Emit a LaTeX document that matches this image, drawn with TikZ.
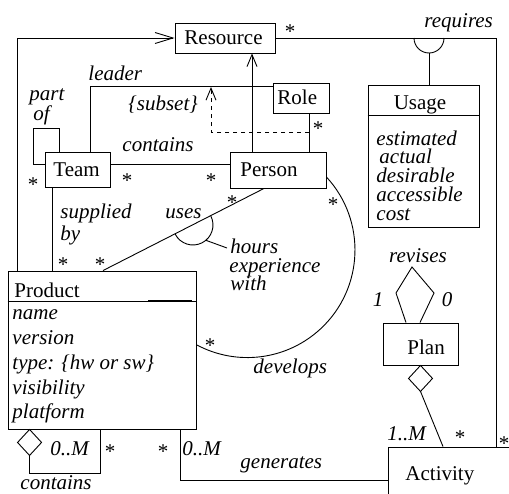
\documentclass[tikz,border=0pt]{standalone}
\usepackage{fontspec}
\setmainfont{Liberation Serif}
\usetikzlibrary{arrows.meta}
\newcommand\fs{\fontsize{21}{24}\selectfont}
\tikzset{
  box/.style={draw, rectangle, inner sep=0pt},
  txt/.style={font=\fs, inner sep=0pt, anchor=base west},
  lbl/.style={font=\fs\itshape, inner sep=0pt, anchor=base west},
  mult/.style={font=\fs, inner sep=0pt, anchor=base, yshift=-10pt},
  bigbarb/.style={-{Straight Barb[length=18pt,width=11pt]}},
  barb/.style={-{Straight Barb[length=12pt,width=10pt]}},
  dsh/.style={dash pattern=on 4pt off 4pt}
}
\begin{document}
\begin{tikzpicture}[x=1pt,y=-1pt,line width=0.9pt]
\useasboundingbox (0,0) rectangle (509,493);
% boxes
\node[box, minimum width=100pt, minimum height=30pt] (res) at (225,38) {};
\node[box, minimum width=56pt, minimum height=30pt] (role) at (301,98) {};
\node[box, minimum width=65pt, minimum height=35pt] (team) at (77.5,169.5) {};
\node[box, minimum width=96pt, minimum height=36pt] (person) at (278,170) {};
\node[box, minimum width=111pt, minimum height=142pt] (usage) at (423.5,156) {};
\node[box, minimum width=188pt, minimum height=158pt] (product) at (102,350) {};
\node[box, minimum width=75pt, minimum height=42pt] (plan) at (420.5,344) {};
\node[box, minimum width=132pt, minimum height=63pt] (activity) at (454,478.5) {};
% dividers
\coordinate (pdv) at (0,301);
\coordinate (udv) at (0,115);
\draw (pdv -| product.west) -- (pdv -| product.east);
\draw[line width=2pt] (148,301) -- (192,301);
\draw (udv -| usage.west) -- (udv -| usage.east);
% box texts
\node[txt] (tres) at (184,44) {Resource};
\node[txt] (trole) at (277,104) {Role};
\node[txt] (tteam) at (53,176) {Team};
\node[txt] (tperson) at (240,176) {Person};
\node[txt, anchor=base] (tusage) at (420,109) {Usage};
\node[txt] (tproduct) at (14,297) {Product};
\node[txt] (tplan) at (407,354) {Plan};
\node[txt] (tact) at (405,480) {Activity};
% attributes
\node[lbl] (a1) at (12,319) {name};
\node[lbl] (a2) at (12,344) {version};
\node[lbl] (a3) at (12,369) {type: \{hw or sw\}};
\node[lbl] (a4) at (12,394) {visibility};
\node[lbl] (a5) at (12,418) {platform};
\node[lbl] (u1) at (376,145) {estimated};
\node[lbl] (u2) at (379,163) {actual};
\node[lbl] (u3) at (376,182) {desirable};
\node[lbl] (u4) at (376,201) {accessible};
\node[lbl] (u5) at (376,220) {cost};
% connectors
\draw[bigbarb] ([xshift=10pt]product.north west) |- (res.west);
\coordinate (rq) at (496,0);
\draw (res.east) -| (activity.north -| rq);
\draw (414,38) arc[start angle=180, end angle=0, radius=15];
\coordinate (rqc) at (429,53);
\draw (rqc) -- (rqc |- usage.north);
\coordinate (pr) at (252,0);
\draw[barb] (pr |- person.north) -- (pr |- res.south);
\draw ([xshift=12.5pt]team.north) |- ([yshift=12pt]role.west);
\coordinate (rp) at (309,0);
\draw (rp |- role.south) -- (rp |- person.north);
\coordinate (dsA) at (309,132);
\coordinate (dsB) at (211,87);
\draw[dsh, barb] (dsA) -| (dsB);
\coordinate (loopc) at (33,128);
\draw ([yshift=5.5pt]team.west) -| (loopc) -| ([xshift=-18.5pt]team.north);
\draw ([yshift=5.5pt]team.east) -- ([yshift=5.5pt]team.east -| person.west);
\draw ([xshift=-25.5pt]team.south) -- ([xshift=-25.5pt]team.south |- product.north);
\draw ([xshift=1pt]product.north) -- ([xshift=-14pt]person.south);
\draw (210.8,215.9) arc[start angle=-27, end angle=153, radius=20];
\coordinate (hk) at (205.9,240.3);
\coordinate (hkb) at (227,248);
\draw (hk) -- (hkb);
\draw ([yshift=-7pt]person.east) arc[start angle=-42.7, end angle=118.3, radius=107.6];
\draw ([xshift=22pt]product.south west) -- ++(12,13) coordinate (pcr0) -- ++(-12,13) coordinate (pcd) -- ++(-12,-13) -- cycle;
\coordinate (pcr) at (100,473);
\draw (pcd) |- (pcr) -- (pcr |- product.south);
\coordinate (gen) at (180,480);
\draw (gen |- product.south) -- (gen) -- (gen -| activity.west);
\draw (plan.south) -- ++(12,13) -- ++(-12,13) coordinate (pdb) -- ++(-12,-13) -- cycle;
\draw (pdb) -- ([xshift=-11pt]activity.north);
\draw ([xshift=-14.5pt]plan.north) -- (396,293) -- (412,267) -- (434,293) -- ([xshift=-0.5pt]plan.north);
% labels
\node[lbl] (l1) at (424,27) {requires};
\node[lbl] (l2) at (88,80) {leader};
\node[lbl] (l3) at (29,100) {part};
\node[lbl] (l4) at (33,120) {of};
\node[lbl] (l5) at (128,110) {\{subset\}};
\node[lbl] (l6) at (122,151) {contains};
\node[lbl] (l7) at (60,218) {supplied};
\node[lbl] (l8) at (60,240) {by};
\node[lbl] (l9) at (165,218) {uses};
\node[lbl] (l10) at (230,253) {hours};
\node[lbl] (l11) at (229,272) {experience};
\node[lbl] (l12) at (230,290) {with};
\node[lbl] (l13) at (253,373) {develops};
\node[lbl, anchor=base] (l14) at (418,262) {revises};
\node[lbl, anchor=base] (l15) at (378,306) {1};
\node[lbl, anchor=base] (l16) at (447,306) {0};
\node[lbl] (l17) at (387,440) {1..M};
\node[lbl] (l18) at (50,455) {0..M};
\node[lbl] (l19) at (182,455) {0..M};
\node[lbl] (l20) at (240,468) {generates};
\node[lbl] (l21) at (20,489) {contains};
% multiplicities
\node[mult] (m1) at (290,28) {*};
\node[mult] (m2) at (33,181) {*};
\node[mult] (m3) at (127,177) {*};
\node[mult] (m4) at (211,177) {*};
\node[mult] (m5) at (318,125) {*};
\node[mult] (m6) at (232,199) {*};
\node[mult] (m7) at (63,261) {*};
\node[mult] (m8) at (100,261) {*};
\node[mult] (m9) at (333,201) {*};
\node[mult] (m10) at (210,342) {*};
\node[mult] (m11) at (110,448) {*};
\node[mult] (m12) at (163,448) {*};
\node[mult] (m13) at (460,434) {*};
\node[mult] (m14) at (504,440) {*};
\end{tikzpicture}
\end{document}
